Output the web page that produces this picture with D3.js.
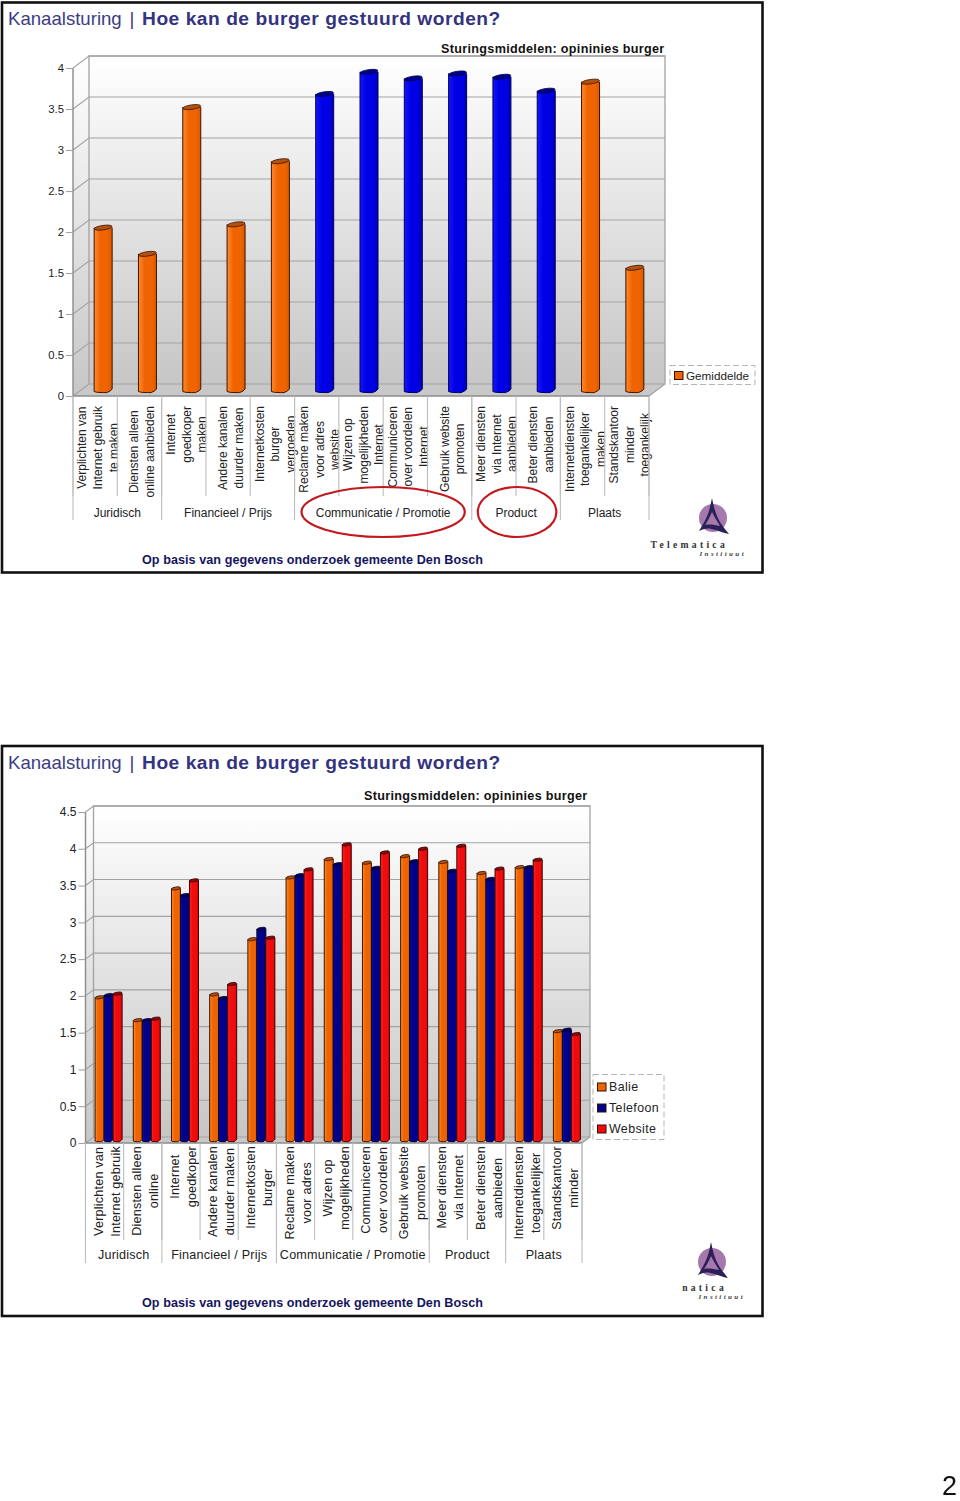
<!DOCTYPE html>
<html><head><meta charset="utf-8">
<script src="https://cdn.jsdelivr.net/npm/d3@7"></script>
<style>
html,body{margin:0;padding:0;background:#fff}
svg{display:block;filter:blur(0.35px)}
text{font-family:"Liberation Sans",Arial,sans-serif}
</style></head><body>
<svg id="page" width="960" height="1501"></svg>
<script>
const titleLight = "Kanaalsturing";
const titleSep = "|";
const titleBold = "Hoe kan de burger gestuurd worden?";
const chartTitle = "Sturingsmiddelen: opininies burger";
const footnote = "Op basis van gegevens onderzoek gemeente Den Bosch";

const groups = ["Juridisch","Financieel / Prijs","Communicatie / Promotie","Product","Plaats"];
const groupSizes = [2,3,4,2,2];
const highlightedGroups = ["Communicatie / Promotie","Product"];

const categoriesTop = [
 ["Verplichten van","Internet gebruik","te maken"],
 ["Diensten alleen","online aanbieden"],
 ["Internet","goedkoper","maken"],
 ["Andere kanalen","duurder maken"],
 ["Internetkosten","burger","vergoeden"],
 ["Reclame maken","voor adres","website"],
 ["Wijzen op","mogelijkheden","Internet"],
 ["Communiceren","over voordelen","Internet"],
 ["Gebruik website","promoten"],
 ["Meer diensten","via Internet","aanbieden"],
 ["Beter diensten","aanbieden"],
 ["Internetdiensten","toegankelijker","maken"],
 ["Standskantoor","minder","toegankelijk"]
];
const categoriesBottom = [
 ["Verplichten van","Internet gebruik"],
 ["Diensten alleen","online"],
 ["Internet","goedkoper"],
 ["Andere kanalen","duurder maken"],
 ["Internetkosten","burger"],
 ["Reclame maken","voor adres"],
 ["Wijzen op","mogelijkheden"],
 ["Communiceren","over voordelen"],
 ["Gebruik website","promoten"],
 ["Meer diensten","via Internet"],
 ["Beter diensten","aanbieden"],
 ["Internetdiensten","toegankelijker"],
 ["Standskantoor","minder"]
];
const gemiddelde = [1.98,1.66,3.45,2.02,2.79,3.61,3.88,3.80,3.86,3.82,3.65,3.76,1.49];
const balie    = [1.94,1.63,3.42,1.98,2.73,3.57,3.82,3.77,3.86,3.78,3.63,3.71,1.48];
const telefoon = [1.97,1.63,3.33,1.93,2.87,3.60,3.75,3.70,3.79,3.66,3.55,3.71,1.50];
const website  = [1.99,1.65,3.53,2.12,2.75,3.68,4.02,3.91,3.96,4.00,3.69,3.81,1.44];
const ticksTop = [0,0.5,1,1.5,2,2.5,3,3.5,4];
const ticksBottom = [0,0.5,1,1.5,2,2.5,3,3.5,4,4.5];

const palette = {
  orange:{mid:"#ef6400",light:"#ff8a2c",dark:"#d85a00",top:"#b4510f",line:"#3c1400"},
  blue:{mid:"#0000e4",light:"#1616ff",dark:"#0000b8",top:"#000088",line:"#000050"},
  navy:{mid:"#00008a",light:"#0a0aa0",dark:"#000070",top:"#000060",line:"#000030"},
  red:{mid:"#f00c0c",light:"#ff2020",dark:"#d00808",top:"#8c0c0c",line:"#3c0000"}
};
const GRID = "#a3a3a3";
const svg = d3.select("#page");
const defs = svg.append("defs");

const wall = defs.append("linearGradient").attr("id","wall").attr("x1",0).attr("x2",0).attr("y1",0).attr("y2",1);
wall.append("stop").attr("offset",0).attr("stop-color","#ffffff");
wall.append("stop").attr("offset",1).attr("stop-color","#c6c6c6");
Object.entries(palette).forEach(([k,c])=>{
  const g = defs.append("linearGradient").attr("id","bar-"+k).attr("x1",0).attr("x2",1).attr("y1",0).attr("y2",0);
  [[0,c.light],[0.35,c.mid],[0.75,c.mid],[1,c.dark]].forEach(s=>g.append("stop").attr("offset",s[0]).attr("stop-color",s[1]));
});

function drawChart(cfg){
  const root = svg.append("g");
  // frame
  root.append("rect").attr("x",2).attr("y",cfg.frameTop).attr("width",760.5).attr("height",cfg.frameH)
    .attr("fill","#fff").attr("stroke","#111").attr("stroke-width",2.6);
  const head = root.append("text").attr("x",8).attr("y",cfg.frameTop+22.5).attr("font-size",18.6).attr("fill","#3c3c85");
  head.append("tspan").text(titleLight);
  head.append("tspan").attr("x",129.5).text(titleSep);
  head.append("tspan").attr("x",142).attr("font-size",19.2).attr("fill","#33337f").attr("font-weight","bold").attr("letter-spacing",cfg.titleLS).text(titleBold);

  const y = d3.scaleLinear().domain([0,d3.max(cfg.ticks)]).range([cfg.y0,cfg.yTop]);
  const x = d3.scaleBand().domain(d3.range(cfg.cats.length)).range([cfg.x0,cfg.x1]);
  const {dx,dy} = cfg;

  // walls
  const g = root.append("g");
  const line = d3.line();
  g.append("path").attr("d",line([[cfg.x0,y(0)],[cfg.x0+dx,y(0)+dy],[cfg.x1+dx,y(0)+dy],[cfg.x1,y(0)]])+"Z").attr("fill","#c8c8c8");
  g.append("rect").attr("x",cfg.x0+dx).attr("y",y.range()[1]+dy).attr("width",cfg.x1-cfg.x0)
    .attr("height",y(0)-y.range()[1]).attr("fill","url(#wall)");
  g.append("path").attr("d",line([[cfg.x0,y(0)],[cfg.x0+dx,y(0)+dy],[cfg.x0+dx,y.range()[1]+dy],[cfg.x0,y.range()[1]]])+"Z").attr("fill","url(#wall)");
  cfg.ticks.forEach(t=>{
    g.append("path").attr("fill","none").attr("stroke",GRID).attr("stroke-width",1.1)
     .attr("d",line([[cfg.x0,y(t)],[cfg.x0+dx,y(t)+dy],[cfg.x1+dx,y(t)+dy]]));
  });
  g.append("path").attr("fill","none").attr("stroke",GRID).attr("stroke-width",1.3)
    .attr("d",line([[cfg.x0+dx,y(0)+dy],[cfg.x0+dx,y.range()[1]+dy],[cfg.x1+dx,y.range()[1]+dy],[cfg.x1+dx,y(0)+dy],[cfg.x1,y(0)]]));
  g.append("path").attr("fill","none").attr("stroke","#8c8c8c").attr("stroke-width",1.4)
    .attr("d",line([[cfg.x0,y.range()[1]],[cfg.x0,y(0)],[cfg.x1,y(0)]]));

  // axis
  const axis = d3.axisLeft(y).tickValues(cfg.ticks).tickSize(7).tickPadding(2).tickFormat(d=>String(d));
  const ax = root.append("g").attr("transform",`translate(${cfg.x0},0)`).call(axis);
  ax.select(".domain").remove();
  ax.selectAll("line").attr("stroke",GRID).attr("stroke-width",1.1);
  ax.selectAll("text").attr("font-size",cfg.tickFont).attr("fill","#222").style("font-family",'"Liberation Sans",Arial,sans-serif');

  // bars
  const inner = d3.scaleBand().domain(d3.range(cfg.series.length)).range([0,cfg.barW*cfg.series.length]);
  const r = cfg.capR;
  const barG = root.append("g");
  cfg.series.forEach((s,si)=>{
    s.values.forEach((v,i)=>{
      const col = palette[s.color(i)];
      const L = x(i)+x.bandwidth()/2+dx/2-inner.range()[1]/2+inner(si);
      const w = cfg.barW, R = L+w;
      const top = y(v)+dy/2, bot = y(0)+dy/2;
      barG.append("path").attr("fill",`url(#bar-${s.color(i)})`).attr("stroke",col.line).attr("stroke-width",1)
        .attr("d",`M${L},${top}L${L},${bot+r*0.6}Q${L+w*0.1},${bot+r} ${L+w*0.5},${bot+r}L${L+w*0.7},${bot+r}Q${R-1},${bot+r*0.4} ${R},${bot-r*0.4}L${R},${top}`);
      barG.append("ellipse").attr("cx",L+w/2).attr("cy",top).attr("rx",w/2).attr("ry",r*0.85)
        .attr("fill",col.top).attr("stroke",col.line).attr("stroke-width",0.8)
        .attr("transform",`rotate(${cfg.capTilt} ${L+w/2} ${top})`);
    });
  });

  // category labels
  const labG = root.append("g");
  cfg.cats.forEach((lines,i)=>{
    const cx = x(i)+x.bandwidth()/2+cfg.labelShift;
    const t = labG.append("g");
    const nodes = lines.map((ln,k)=>t.append("text").attr("text-anchor","middle").attr("font-size",cfg.catFont)
        .attr("fill","#222").attr("letter-spacing",cfg.catLS).text(ln));
    const maxLen = d3.max(nodes,n=>n.node().getComputedTextLength());
    const cy = cfg.labelTop+maxLen/2;
    nodes.forEach((n,k)=>{
      const lx = cx+(k-(lines.length-1)/2)*cfg.lineGap+cfg.catFont*0.36;
      n.attr("transform",`translate(${lx},${cy}) rotate(-90)`);
    });
  });

  // separators
  const sep = root.append("g").attr("stroke","#bdbdbd").attr("stroke-width",1.1);
  d3.range(cfg.cats.length+1).forEach(i=>{
    const xp = i<cfg.cats.length ? x(i) : cfg.x1;
    sep.append("line").attr("x1",xp).attr("x2",xp).attr("y1",y(0)).attr("y2",cfg.sepMinor);
  });
  let c = 0;
  const edges = [0];
  groupSizes.forEach(n=>{c+=n;edges.push(c);});
  edges.forEach(e=>{
    const xp = e<cfg.cats.length ? x(e) : cfg.x1;
    sep.append("line").attr("x1",xp).attr("x2",xp).attr("y1",y(0)).attr("y2",cfg.sepMajor);
  });
  groups.forEach((name,gi)=>{
    const a = x(edges[gi]), b = edges[gi+1]<cfg.cats.length ? x(edges[gi+1]) : cfg.x1;
    root.append("text").attr("x",(a+b)/2).attr("y",cfg.groupY).attr("text-anchor","middle")
      .attr("font-size",cfg.groupFont).attr("letter-spacing",cfg.groupLS).attr("fill","#222").text(name);
    if(cfg.ellipses && highlightedGroups.includes(name)){
      root.append("ellipse").attr("cx",(a+b)/2-(name==="Product"?-1:0)).attr("cy",cfg.groupY-5)
        .attr("rx",(b-a)/2-(name==="Product"?5:7)).attr("ry",25)
        .attr("fill","none").attr("stroke","#c4181f").attr("stroke-width",2.2);
    }
  });

  // chart title and footnote
  root.append("text").attr("x",cfg.titleX).attr("y",cfg.titleY).attr("font-size",12.6).attr("font-weight","bold")
    .attr("letter-spacing",0.32).attr("fill","#111").text(chartTitle);
  root.append("text").attr("x",142).attr("y",cfg.frameTop+561).attr("font-size",12.6).attr("font-weight","bold")
    .attr("letter-spacing",0.06).attr("fill","#15155e").text(footnote);

  // legend
  const lg = root.append("g");
  lg.append("rect").attr("x",cfg.legend.x).attr("y",cfg.legend.y).attr("width",cfg.legend.w).attr("height",cfg.legend.h)
    .attr("fill","#fff").attr("stroke","#b5b5b5").attr("stroke-dasharray","6 3").attr("stroke-width",1);
  cfg.series.forEach((s,i)=>{
    const cy = cfg.legend.first+i*cfg.legend.step;
    const col = palette[s.legendColor];
    lg.append("rect").attr("x",cfg.legend.x+4.5).attr("y",cy-4).attr("width",8.5).attr("height",8)
      .attr("fill",col.mid).attr("stroke","#301000").attr("stroke-width",1);
    lg.append("text").attr("x",cfg.legend.x+16).attr("y",cy+4.4).attr("font-size",cfg.legend.font)
      .attr("letter-spacing",cfg.legend.ls).attr("fill","#222").text(s.name);
  });

  // logo
  const lo = root.append("g").attr("transform",`translate(${cfg.logo.x},${cfg.logo.y})`);
  lo.append("circle").attr("cx",0).attr("cy",0).attr("r",14).attr("fill","#a678ae");
  lo.append("path").attr("fill","#2b2158")
    .attr("d","M-1,-20 C1,-10 3,-3 7,4 C10,9 13,12 16,16 C10,15 4,12 -2,11 C-6,10 -10,11 -14,13 C-10,6 -6,0 -4,-7 C-3,-11 -2,-15 -1,-20Z M-1,-6 C-3,-1 -6,4 -8,7 C-4,6 2,7 7,8 C4,3 1,-2 -1,-6Z");
  lo.append("text").attr("x",cfg.logo.tx).attr("y",cfg.logo.ty).attr("text-anchor","end")
    .attr("font-size",9.6).attr("font-weight","bold").attr("letter-spacing",3.3).attr("fill","#333")
    .style("font-family",'"Liberation Serif",serif').text(cfg.logo.name);
  lo.append("text").attr("x",33).attr("y",cfg.logo.ty+8).attr("text-anchor","end")
    .attr("font-size",7).attr("font-style","italic").attr("font-weight","bold").attr("letter-spacing",2.4).attr("fill","#444")
    .style("font-family",'"Liberation Serif",serif').text("Instituut");
}

const groupOfCategory = groups.flatMap((g,i)=>d3.range(groupSizes[i]).map(()=>g));

drawChart({
  frameTop:2.5, frameH:570, titleLS:0.52,
  ticks:ticksTop, cats:categoriesTop,
  x0:73,x1:649,y0:396,yTop:68,dx:16,dy:-12,
  barW:18,capR:2.6,capTilt:-8,
  tickFont:11.3,catFont:12,catLS:0,lineGap:15.6,labelShift:2.5,labelTop:406,
  sepMinor:496,sepMajor:520,groupY:517,groupFont:12,groupLS:0,ellipses:true,
  titleX:441,titleY:53,
  series:[{name:"Gemiddelde",values:gemiddelde,legendColor:"orange",
    color:i=>highlightedGroups.includes(groupOfCategory[i])?"blue":"orange"}],
  legend:{x:670,y:365.5,w:85,h:19,first:375.5,step:21,font:11.7,ls:0},
  logo:{x:713,y:518,tx:15,ty:30,name:"Telematica"}
});
drawChart({
  frameTop:746, frameH:570, titleLS:0.52,
  ticks:ticksBottom, cats:categoriesBottom,
  x0:85.5,x1:582,y0:1143,yTop:812,dx:8,dy:-6,
  barW:9,capR:1.7,capTilt:-8,
  tickFont:12,catFont:12.6,catLS:0.2,lineGap:17,labelShift:2,labelTop:1146,
  sepMinor:1240,sepMajor:1263,groupY:1259,groupFont:12.6,groupLS:0.2,ellipses:false,
  titleX:364,titleY:800,
  series:[
    {name:"Balie",values:balie,legendColor:"orange",color:()=>"orange"},
    {name:"Telefoon",values:telefoon,legendColor:"navy",color:()=>"navy"},
    {name:"Website",values:website,legendColor:"red",color:()=>"red"}
  ],
  legend:{x:593,y:1074.5,w:71,h:65,first:1087,step:21,font:12.4,ls:0.4},
  logo:{x:712,y:1262,tx:15,ty:29,name:"natica"}
});
svg.append("text").attr("x",942).attr("y",1495).attr("font-size",27).attr("fill","#111").text("2");
</script>
</body></html>
